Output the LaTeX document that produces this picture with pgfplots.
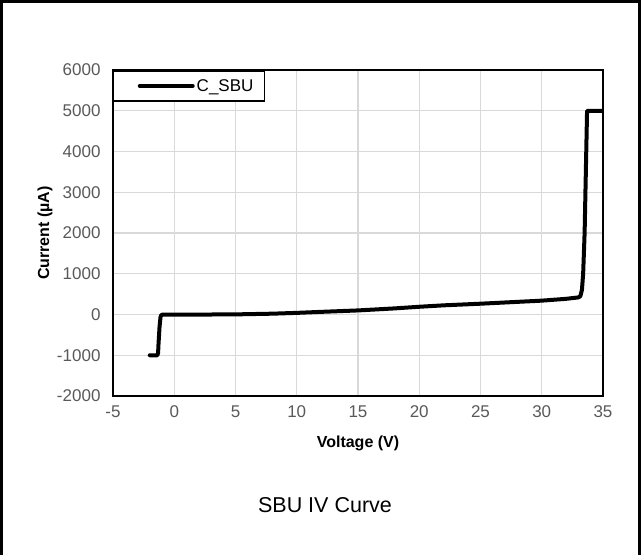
\documentclass[border=0pt]{standalone}
\usepackage{pgfplots}
\pgfplotsset{compat=1.18}
\usepackage{fontspec}
\setmainfont{Liberation Sans}
\definecolor{tickgray}{HTML}{595959}
\definecolor{gridgray}{HTML}{D9D9D9}

\begin{document}
\begin{tikzpicture}
% chart area (page) and its frame, measured from the plot area's lower-left corner
\begin{scope}[xshift=-113pt, yshift=-159pt, x=1pt, y=1pt]
\path[use as bounding box] (0,0) rectangle (641,555);
\draw[line width=3pt] (2,0) -- (2,553.5) -- (639,553.5) -- (639,0);
\node[font=\fontsize{21.5}{26}\selectfont] at (325,50) {SBU IV Curve};
\end{scope}
\begin{axis}[
  anchor=south west,
  scale only axis, width=490pt, height=326pt,
  xmin=-5, xmax=35, ymin=-2000, ymax=6000,
  xtick={-5,0,...,35}, ytick={-2000,-1000,...,6000},
  grid=major, major grid style={gridgray, line width=1.4pt},
  axis line style={line width=2pt, black},
  tick style={draw=none},
  /pgf/number format/assume math mode=true,
  /pgf/number format/1000 sep={},
  scaled y ticks=false,
  ticklabel style={font=\fontsize{17}{20}\selectfont, text=tickgray},
  xticklabel style={yshift=-6pt},
  yticklabel style={xshift=-9pt},
  xlabel={Voltage (V)},
  ylabel={Current (µA)},
  xlabel style={at={(axis description cs:0.5,-0.144)}, anchor=center, font=\bfseries\fontsize{16}{19}\selectfont},
  ylabel style={at={(axis description cs:-0.139,0.5)}, anchor=center, font=\bfseries\fontsize{16}{19}\selectfont},
  legend style={at={(axis description cs:0,1)}, anchor=north west, draw=black, line width=1.5pt, fill=white,
    inner xsep=9pt, inner ysep=6.5pt, font=\fontsize{17}{20}\selectfont},
  legend image code/.code={\path (0pt,0pt); \draw[#1] (15pt,0pt) -- (68pt,0pt);},
]
\addplot[black, line width=4pt, line join=round, line cap=round] coordinates {
  (-2.0,-1000) (-1.38,-1000) (-1.32,-950) (-1.28,-700) (-1.2,-300) (-1.12,-60) (-1.05,-10) (-0.9,0)
  (0,0) (3,0) (5,3) (8,20) (10,40) (12,65) (15,100) (18,150) (20,190) (22,225) (25,265)
  (28,310) (30,340) (32,385) (33,420) (33.15,450) (33.28,600) (33.38,1000) (33.5,2000)
  (33.6,3500) (33.7,5000) (35,5000)
};
\addlegendentry{C\_SBU}
\end{axis}
\end{tikzpicture}
\end{document}
